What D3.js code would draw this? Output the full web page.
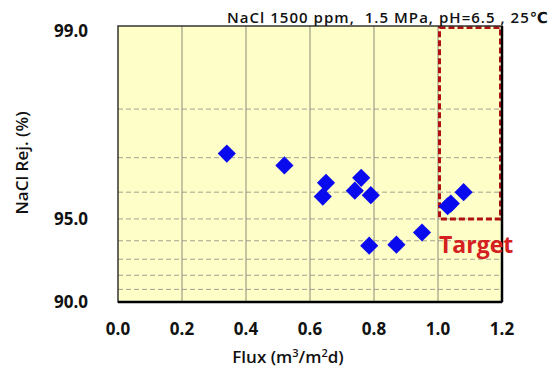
<!DOCTYPE html>
<html lang="en">
<head>
<meta charset="UTF-8">
<title>NaCl rejection vs flux</title>
<style>
  body { margin: 0; background: #fff; }
  text { font-family: "Open Sans", "DejaVu Sans", sans-serif; }
</style>
</head>
<body>
<script src="https://cdn.jsdelivr.net/npm/d3@7"></script>
<script>
// flux (m3/m2d) and NaCl rejection (%)
var flux = [0.34, 0.52, 0.65, 0.64, 0.76, 0.74, 0.79, 0.785, 0.87, 0.95, 1.03, 1.04, 1.08];
var rejection = [97.1, 96.8, 96.3, 95.85, 96.45, 96.05, 95.9, 93.75, 93.8, 94.4, 95.5, 95.6, 96.0];

var xTicks = [0, 0.2, 0.4, 0.6, 0.8, 1.0, 1.2];
var yTickLabels = [99.0, 95.0, 90.0];
var yGrid = [98, 97, 96, 95, 94, 93, 92, 91];
var target = { fluxMin: 1.0, fluxMax: 1.2, rejMin: 95.0, rejMax: 99.0 };
var title = "NaCl 1500 ppm,  1.5 MPa, pH=6.5 , 25\u2103";

var W = 557, H = 369;
var pLeft = 118, pRight = 502, pTop = 26, pBottom = 302;

var svg = d3.select("body").append("svg").attr("width", W).attr("height", H);

var x = d3.scaleLinear().domain([0, 1.2]).range([pLeft, pRight]);
// y axis is log of salt passage (100 - rejection)
var yLog = d3.scaleLog().domain([1, 10]).range([pTop, pBottom]);
var y = function (r) { return yLog(100 - r); };

// plot background
svg.append("rect").attr("x", pLeft).attr("y", pTop)
  .attr("width", pRight - pLeft).attr("height", pBottom - pTop)
  .attr("fill", "#fefec9");

// horizontal dashed grid
svg.selectAll(".hg").data(yGrid).enter().append("line")
  .attr("x1", pLeft).attr("x2", pRight)
  .attr("y1", function (d) { return y(d); }).attr("y2", function (d) { return y(d); })
  .attr("stroke", "#a0a090").attr("stroke-width", 1).attr("stroke-dasharray", "5,3");

// vertical grid
svg.selectAll(".vg").data(xTicks.slice(1, -1)).enter().append("line")
  .attr("x1", function (d) { return x(d); }).attr("x2", function (d) { return x(d); })
  .attr("y1", pTop).attr("y2", pBottom)
  .attr("stroke", "#8a8a7a").attr("stroke-width", 1);

// target box
svg.append("rect")
  .attr("x", x(target.fluxMin) + 1.5).attr("y", y(target.rejMax) + 1.5)
  .attr("width", x(target.fluxMax) - x(target.fluxMin) - 3)
  .attr("height", y(target.rejMin) - y(target.rejMax) - 1.5)
  .attr("fill", "none").attr("stroke", "#b01010").attr("stroke-width", 3)
  .attr("stroke-dasharray", "6,3");

// border
svg.append("rect").attr("x", pLeft).attr("y", pTop)
  .attr("width", pRight - pLeft).attr("height", pBottom - pTop)
  .attr("fill", "none").attr("stroke", "#333").attr("stroke-width", 1.5);
svg.append("line").attr("x1", pLeft).attr("x2", pRight).attr("y1", pBottom).attr("y2", pBottom)
  .attr("stroke", "#000").attr("stroke-width", 2.5);
svg.append("line").attr("x1", pRight).attr("x2", pRight).attr("y1", pTop).attr("y2", pBottom)
  .attr("stroke", "#000").attr("stroke-width", 2.5);

// points
var diamond = d3.symbol().type(d3.symbolSquare).size(165);
svg.selectAll(".pt").data(flux).enter().append("path")
  .attr("d", diamond)
  .attr("transform", function (d, i) {
    return "translate(" + x(d) + "," + y(rejection[i]) + ") rotate(45)";
  })
  .attr("fill", "#0a0aee");

// x tick labels
svg.selectAll(".xt").data(xTicks).enter().append("text")
  .attr("x", function (d) { return x(d); }).attr("y", 335)
  .attr("text-anchor", "middle").attr("font-size", 17).attr("font-weight", "bold")
  .attr("fill", "#111")
  .text(function (d) { return d.toFixed(1); });

// y tick labels
svg.selectAll(".yt").data(yTickLabels).enter().append("text")
  .attr("x", 88).attr("y", function (d) { return Math.max(y(d) + 6, pTop + 11); })
  .attr("text-anchor", "end").attr("font-size", 17).attr("font-weight", "bold")
  .attr("fill", "#111")
  .text(function (d) { return d.toFixed(1); });

// axis titles
var xl = svg.append("text").attr("x", 288).attr("y", 363)
  .attr("text-anchor", "middle").attr("font-size", 17).attr("font-weight", 600).attr("fill", "#111");
xl.append("tspan").text("Flux (m");
xl.append("tspan").attr("font-size", 11).attr("dy", -6).text("3");
xl.append("tspan").attr("dy", 6).text("/m");
xl.append("tspan").attr("font-size", 11).attr("dy", -6).text("2");
xl.append("tspan").attr("dy", 6).text("d)");

svg.append("text").attr("transform", "translate(28,163) rotate(-90)")
  .attr("text-anchor", "middle").attr("font-size", 17).attr("font-weight", 600)
  .attr("fill", "#111").text("NaCl Rej. (%)");

// title
svg.append("text").attr("x", 227).attr("y", 23)
  .attr("font-size", 15).attr("font-weight", 600).attr("fill", "#111")
  .attr("textLength", 321).attr("lengthAdjust", "spacing")
  .style("white-space", "pre")
  .text(title);

// target label
svg.append("text").attr("x", 439).attr("y", 253)
  .attr("font-size", 23).attr("font-weight", "bold").attr("fill", "#d42020")
  .text("Target");
</script>
</body>
</html>
